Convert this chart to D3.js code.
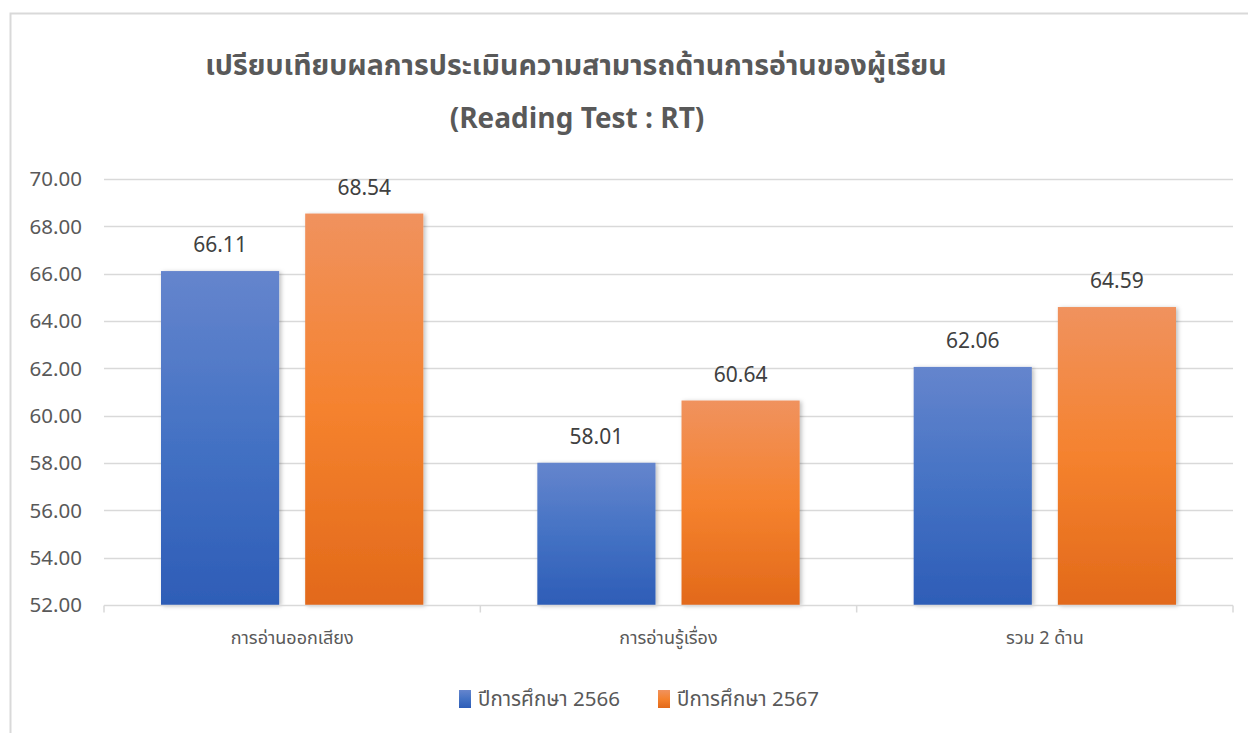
<!DOCTYPE html>
<html>
<head>
<meta charset="utf-8">
<script src="https://cdn.jsdelivr.net/npm/d3@7"></script>
<style>
  body { margin: 0; background: #fff; }
  svg text { font-family: "Noto Sans Thai", "Tahoma", "Noto Sans", "DejaVu Sans", sans-serif; }
</style>
</head>
<body>
<svg id="chart" width="1248" height="733"></svg>
<script>
// data
const categories = ["การอ่านออกเสียง", "การอ่านรู้เรื่อง", "รวม 2 ด้าน"];
const seriesNames = ["ปีการศึกษา 2566", "ปีการศึกษา 2567"];
const values2566 = [66.11, 58.01, 62.06];
const values2567 = [68.54, 60.64, 64.59];
const yTicks = [52, 54, 56, 58, 60, 62, 64, 66, 68, 70];
const titleLine1 = "เปรียบเทียบผลการประเมินความสามารถด้านการอ่านของผู้เรียน";
const titleLine2 = "(Reading Test : RT)";

const svg = d3.select("#chart");
const MARGIN = { left: 104, right: 15, top: 179, bottom: 128 };
const width = 1248, height = 733;

// chart frame (cut off at right & bottom like the source)
svg.append("path")
  .attr("d", "M10.5,733 L10.5,13.5 L1248,13.5")
  .attr("fill", "none").attr("stroke", "#d9d9d9").attr("stroke-width", 2);

// gradients
const defs = svg.append("defs");
const grads = [
  { id: "gBlue", stops: ["#6585cd", "#4472c4", "#2e5db7"] },
  { id: "gOrange", stops: ["#f0925e", "#f5822e", "#e2691a"] }
];
grads.forEach(g => {
  const lg = defs.append("linearGradient").attr("id", g.id)
    .attr("x1", "0%").attr("y1", "0%").attr("x2", "0%").attr("y2", "100%");
  lg.append("stop").attr("offset", "0%").attr("stop-color", g.stops[0]);
  lg.append("stop").attr("offset", "50%").attr("stop-color", g.stops[1]);
  lg.append("stop").attr("offset", "100%").attr("stop-color", g.stops[2]);
});
const shadow = defs.append("filter").attr("id", "shadow")
  .attr("x", "-10%").attr("y", "-10%").attr("width", "130%").attr("height", "130%");
shadow.append("feDropShadow").attr("dx", 2).attr("dy", 1).attr("stdDeviation", 2)
  .attr("flood-color", "#000").attr("flood-opacity", 0.25);

const x0 = d3.scaleBand().domain(categories)
  .range([MARGIN.left, width - MARGIN.right]).paddingInner(0).paddingOuter(0);
// bars: 57px outer gap, 26px gap between the pair
const x1 = d3.scaleBand().domain(seriesNames)
  .range([57, x0.bandwidth() - 57]).paddingInner(26 / 144).paddingOuter(0);
const y = d3.scaleLinear().domain([52, 70]).range([height - MARGIN.bottom, MARGIN.top]);

// gridlines
svg.append("g").selectAll("line")
  .data(yTicks.slice(1))
  .join("line")
  .attr("x1", MARGIN.left).attr("x2", width - MARGIN.right)
  .attr("y1", d => Math.round(y(d)) + 0.5).attr("y2", d => Math.round(y(d)) + 0.5)
  .attr("stroke", "#d9d9d9").attr("stroke-width", 1.5);

// y axis labels
svg.append("g").selectAll("text")
  .data(yTicks)
  .join("text")
  .attr("x", 82).attr("y", d => y(d))
  .attr("dy", "0.35em")
  .attr("text-anchor", "end")
  .attr("fill", "#595959")
  .style("font-size", "20.5px")
  .text(d => d3.format(".2f")(d));

// bars
const rows = categories.map((c, i) => ({ cat: c, vals: [values2566[i], values2567[i]] }));
const grp = svg.append("g").selectAll("g")
  .data(rows).join("g")
  .attr("transform", d => `translate(${x0(d.cat)},0)`);

grp.selectAll("rect")
  .data(d => d.vals.map((v, j) => ({ name: seriesNames[j], v, j })))
  .join("rect")
  .attr("x", d => x1(d.name))
  .attr("width", x1.bandwidth())
  .attr("y", d => y(d.v))
  .attr("height", d => y(52) - y(d.v))
  .attr("fill", d => d.j === 0 ? "url(#gBlue)" : "url(#gOrange)")
  .attr("filter", "url(#shadow)");

grp.selectAll("text.val")
  .data(d => d.vals.map((v, j) => ({ name: seriesNames[j], v, j })))
  .join("text")
  .attr("class", "val")
  .attr("x", d => x1(d.name) + x1.bandwidth() / 2)
  .attr("y", d => y(d.v) - 19)
  .attr("text-anchor", "middle")
  .attr("fill", "#404040")
  .style("font-size", "21px")
  .text(d => d3.format(".2f")(d.v));

// x axis line + ticks
const axisY = Math.round(y(52)) + 0.5;
svg.append("line")
  .attr("x1", MARGIN.left).attr("x2", width - MARGIN.right)
  .attr("y1", axisY).attr("y2", axisY)
  .attr("stroke", "#d9d9d9").attr("stroke-width", 1.5);
const tickXs = categories.map(c => x0(c)).concat([width - MARGIN.right]);
svg.append("g").selectAll("line")
  .data(tickXs)
  .join("line")
  .attr("x1", d => d).attr("x2", d => d)
  .attr("y1", axisY).attr("y2", axisY + 7)
  .attr("stroke", "#d9d9d9").attr("stroke-width", 1.5);

svg.append("g").selectAll("text")
  .data(categories)
  .join("text")
  .attr("x", d => x0(d) + x0.bandwidth() / 2)
  .attr("y", 644)
  .attr("text-anchor", "middle")
  .attr("fill", "#595959")
  .style("font-size", "18px")
  .text(d => d);

// title
svg.append("text")
  .attr("x", 576).attr("y", 75)
  .attr("text-anchor", "middle")
  .attr("fill", "#595959")
  .style("font-size", "28.5px").style("font-weight", "bold")
  .text(titleLine1);
svg.append("text")
  .attr("x", 577).attr("y", 128)
  .attr("text-anchor", "middle")
  .attr("fill", "#595959")
  .style("font-size", "28px").style("font-weight", "bold")
  .text(titleLine2);

// legend
const legendX = [459, 658];
const leg = svg.append("g").selectAll("g")
  .data(seriesNames).join("g")
  .attr("transform", (d, i) => `translate(${legendX[i]},690)`);
leg.append("rect")
  .attr("width", 12).attr("height", 18)
  .attr("fill", (d, i) => i === 0 ? "url(#gBlue)" : "url(#gOrange)");
leg.append("text")
  .attr("x", 19).attr("y", 16)
  .attr("fill", "#595959")
  .style("font-size", "20.5px")
  .text(d => d);
</script>
</body>
</html>
